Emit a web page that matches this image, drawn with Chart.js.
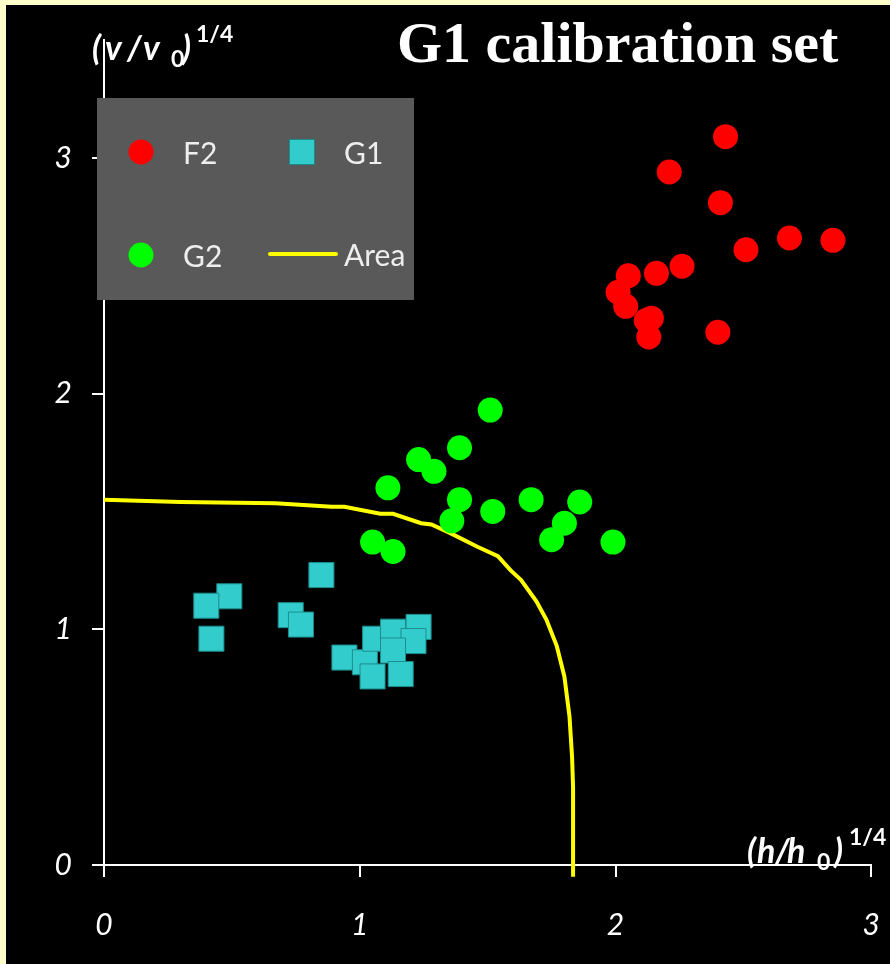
<!DOCTYPE html>
<html>
<head>
<meta charset="utf-8">
<title>G1 calibration set</title>
<script src="https://cdn.jsdelivr.net/npm/chart.js@4/dist/chart.umd.min.js"></script>
<style>
	html, body { margin:0; padding:0; background:#FFFFCC; }
	body { width:890px; height:964px; position:relative; overflow:hidden; }
	#chart { position:absolute; left:6px; top:5px; background:#000; }
</style>
</head>
<body>
<canvas id="chart" width="884" height="959"></canvas>
<script>
// valores (h/h0)^1/4 e (v/v0)^1/4 de cada grupo
const f2X = [2.43, 2.21, 2.41, 2.51, 2.68, 2.85, 2.26, 2.16, 2.05, 2.01, 2.04, 2.14, 2.12, 2.13, 2.40];
const f2Y = [3.09, 2.94, 2.81, 2.61, 2.66, 2.65, 2.54, 2.51, 2.50, 2.43, 2.37, 2.32, 2.31, 2.24, 2.26];

const g1X = [0.85, 0.49, 0.40, 0.42, 0.73, 0.77, 0.94, 1.02, 1.05, 1.06, 1.13, 1.23, 1.21, 1.13, 1.16];
const g1Y = [1.23, 1.14, 1.10, 0.96, 1.06, 1.02, 0.88, 0.86, 0.80, 0.96, 0.99, 1.01, 0.95, 0.91, 0.81];

const g2X = [1.51, 1.39, 1.23, 1.29, 1.11, 1.39, 1.36, 1.52, 1.67, 1.86, 1.80, 1.75, 1.99, 1.05, 1.13];
const g2Y = [1.93, 1.77, 1.72, 1.67, 1.60, 1.55, 1.46, 1.50, 1.55, 1.54, 1.45, 1.38, 1.37, 1.37, 1.33];

// contorno da area G1
const areaX = [0, 0.30, 0.67, 0.89, 0.94, 1.08, 1.13, 1.24, 1.28, 1.35, 1.46, 1.54, 1.59, 1.63, 1.69, 1.73, 1.77, 1.80, 1.82, 1.83, 1.834, 1.834, 1.834];
const areaY = [1.55, 1.54, 1.535, 1.52, 1.52, 1.49, 1.49, 1.45, 1.445, 1.41, 1.35, 1.31, 1.25, 1.21, 1.12, 1.04, 0.93, 0.80, 0.63, 0.46, 0.33, 0, -0.05];

const xTicks = [0, 1, 2, 3];
const yTicks = [0, 1, 2, 3];

function pts(xs, ys){ return xs.map((x, i) => ({ x: x, y: ys[i] })); }

const TICK_FONT = { family: 'Lato', style: 'italic', size: 30 };
const LBL = 'Lato';

// cada pedaço do titulo do eixo fica na sua posição x
function drawPieces(ctx, y, pieces){
	for (const p of pieces){
		ctx.font = p.f;
		ctx.fillText(p.t, p.x, y + (p.dy || 0));
	}
}

const extras = {
	id: 'extras',
	afterDraw(chart){
		const ctx = chart.ctx;
		ctx.save();
		ctx.fillStyle = '#fff';
		ctx.textBaseline = 'alphabetic';
		ctx.textAlign = 'left';

		// titulo
		ctx.font = 'bold 58px "Liberation Serif"';
		ctx.fillText('G1 calibration set', 391, 57);

		// titulos dos eixos
		const big = 'bold italic 34px ' + LBL;
		const small = 'bold 23px ' + LBL;
		drawPieces(ctx, 55, [
			{ t: '(', f: big, x: 86 },
			{ t: 'v', f: big, x: 99 },
			{ t: '/', f: big, x: 121 },
			{ t: 'v', f: big, x: 137 },
			{ t: '0', f: small, x: 165, dy: 7 },
			{ t: ')', f: big, x: 176 },
			{ t: '1/4', f: small, x: 190, dy: -18 }
		]);
		drawPieces(ctx, 858, [
			{ t: '(', f: big, x: 741 },
			{ t: 'h', f: big, x: 751 },
			{ t: '/', f: big, x: 769 },
			{ t: 'h', f: big, x: 781 },
			{ t: '0', f: small, x: 811, dy: 7 },
			{ t: ')', f: big, x: 828 },
			{ t: '1/4', f: small, x: 843, dy: -18 }
		]);

		// legenda
		ctx.fillStyle = '#595959';
		ctx.fillRect(91, 93, 317, 202);
		ctx.font = '30px ' + LBL;
		ctx.textBaseline = 'middle';
		const ds = chart.data.datasets;
		const items = [
			{ d: ds[0], x: 135, y: 147, tx: 177 },
			{ d: ds[1], x: 296, y: 147, tx: 338 },
			{ d: ds[2], x: 135, y: 250, tx: 177 },
			{ d: ds[3], x: 296, y: 249, tx: 338 }
		];
		for (const it of items){
			if (it.d.showLine){
				ctx.strokeStyle = it.d.borderColor;
				ctx.lineWidth = it.d.borderWidth;
				ctx.lineCap = 'round';
				ctx.beginPath();
				ctx.moveTo(it.x - 32, it.y);
				ctx.lineTo(it.x + 34, it.y);
				ctx.stroke();
			} else {
				ctx.fillStyle = it.d.backgroundColor;
				ctx.strokeStyle = it.d.borderColor;
				ctx.lineWidth = it.d.borderWidth;
				Chart.helpers.drawPoint(ctx, { pointStyle: it.d.pointStyle, radius: it.d.pointRadius, borderWidth: it.d.borderWidth }, it.x, it.y);
			}
			ctx.fillStyle = '#eee';
			ctx.fillText(it.d.label, it.tx, it.y + 2);
		}
		ctx.restore();
	}
};

window.addEventListener('DOMContentLoaded', ()=>{
	const ctx = document.getElementById('chart');
	new Chart(ctx, {
		type: 'scatter',
		data: {
			datasets: [
				{ label: 'F2', data: pts(f2X, f2Y), pointStyle: 'circle', pointRadius: 12.5, backgroundColor: '#FF0000', borderColor: '#FF0000', borderWidth: 0 },
				{ label: 'G1', data: pts(g1X, g1Y), pointStyle: 'rect', pointRadius: 17.7, backgroundColor: '#33CCCC', borderColor: '#1E8C8C', borderWidth: 1 },
				{ label: 'G2', data: pts(g2X, g2Y), pointStyle: 'circle', pointRadius: 12.5, backgroundColor: '#00FF00', borderColor: '#00FF00', borderWidth: 0 },
				{ label: 'Area', data: pts(areaX, areaY), showLine: true, pointRadius: 0, borderColor: '#FFFF00', borderWidth: 4, backgroundColor: '#FFFF00', tension: 0, order: 1, clip: false }
			]
		},
		options: {
			responsive: false,
			animation: false,
			devicePixelRatio: 1,
			layout: { padding: { top: 35, right: 12, left: 0, bottom: 0 } },
			plugins: { legend: { display: false }, tooltip: { enabled: false } },
			scales: {
				x: {
					type: 'linear', min: 0, max: 3,
					afterFit: (s)=>{ s.height = 99; s.paddingLeft = 0; s.paddingRight = 0; },
					afterBuildTicks: (s)=>{ s.ticks = xTicks.map(v=>({ value: v })); },
					border: { color: '#fff', width: 2 },
					grid: { drawOnChartArea: false, drawTicks: true, tickLength: 12, color: '#fff', lineWidth: 2 },
					ticks: { color: '#fff', font: TICK_FONT, padding: 30, maxRotation: 0 }
				},
				y: {
					type: 'linear', min: 0, max: 3.5,
					afterFit: (s)=>{ s.width = 98; s.paddingTop = 0; s.paddingBottom = 0; },
					afterBuildTicks: (s)=>{ s.ticks = yTicks.map(v=>({ value: v })); },
					border: { color: '#fff', width: 2 },
					grid: { drawOnChartArea: false, drawTicks: true, tickLength: 12, color: '#fff', lineWidth: 2 },
					ticks: { color: '#fff', font: TICK_FONT, padding: 20 }
				}
			}
		},
		plugins: [extras]
	});
});
</script>
</body>
</html>
